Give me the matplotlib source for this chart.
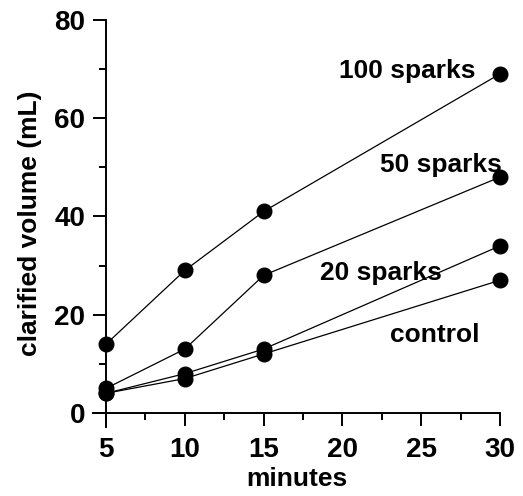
import matplotlib.pyplot as plt
from matplotlib.ticker import MultipleLocator

plt.rcParams['font.family'] = ['Liberation Sans', 'DejaVu Sans']
plt.rcParams['font.weight'] = 'bold'

# data
minutes = [5, 10, 15, 30]
sparks_100 = [14, 29, 41, 69]
sparks_50 = [5, 13, 28, 48]
sparks_20 = [4, 8, 13, 34]
control = [4, 7, 12, 27]

series = [
    ("100 sparks", sparks_100, (19.8, 69.5)),
    ("50 sparks", sparks_50, (22.4, 50.5)),
    ("20 sparks", sparks_20, (18.6, 28.5)),
    ("control", control, (23.0, 15.9)),
]

fig = plt.figure(figsize=(5.23, 4.96), dpi=100)
ax = fig.add_axes([0.1786, 0.1397, 0.9560 - 0.1786, 0.960 - 0.1397])

for name, vals, (tx, ty) in series:
    ax.plot(minutes, vals, color='black', lw=0.9, marker='o', ms=10.5,
            clip_on=False, zorder=3)
    ax.text(tx, ty, name, fontsize=19, fontweight='bold', va='center', ha='left')

ax.set_xlim(4.2, 30)
ax.set_ylim(-2.8, 80)

# axes cross like a prism graph
ax.spines['left'].set_position(('data', 5))
ax.spines['bottom'].set_position(('data', 0))
ax.spines['top'].set_visible(False)
ax.spines['right'].set_visible(False)
for s in ['left', 'bottom']:
    ax.spines[s].set_linewidth(1.4)

ax.xaxis.set_major_locator(MultipleLocator(5))
ax.xaxis.set_minor_locator(MultipleLocator(2.5))
ax.yaxis.set_major_locator(MultipleLocator(20))
ax.yaxis.set_minor_locator(MultipleLocator(10))
ax.set_xticks([5, 10, 15, 20, 25, 30])

ax.tick_params(which='major', length=9.5, width=1.4, labelsize=20)
ax.tick_params(which='minor', length=5.2, width=1.4)
ax.tick_params(axis='x', which='major', pad=8)
ax.tick_params(axis='y', which='major', pad=5.5)
for lab in ax.get_xticklabels() + ax.get_yticklabels():
    lab.set_fontweight('bold')

ax.set_xlabel('minutes', fontsize=19, fontweight='bold')
ax.set_ylabel('clarified volume (mL)', fontsize=19, fontweight='bold')
ax.xaxis.set_label_coords(0.5, -0.098)
ax.yaxis.set_label_coords(-0.126, 0.5)

fig.savefig('out.png', dpi=100)
